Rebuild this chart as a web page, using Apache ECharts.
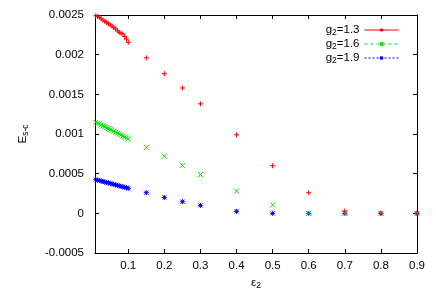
<!DOCTYPE html>
<html><head><meta charset="utf-8">
<script src="https://cdn.jsdelivr.net/npm/echarts@6/dist/echarts.min.js"></script>
<style>html,body{margin:0;padding:0;background:#fff}#c{width:436px;height:305px}</style>
</head><body><div id="c"></div>
<script>
const xVals = [0.01,0.015,0.02,0.025,0.03,0.035,0.04,0.045,0.05,0.055,0.06,0.065,0.07,0.075,0.08,0.085,0.09,0.095,0.1,
  0.15,0.2,0.25,0.3,0.4,0.5,0.6,0.7,0.8,0.9];
const seriesNames = ['g2=1.3','g2=1.6','g2=1.9'];
const g13 = [0.002490,0.002482,0.002470,0.002452,0.002436,0.002420,0.002404,0.002390,0.002374,0.002360,0.002342,0.002325,0.002300,0.002282,0.002270,0.002262,0.002228,0.002196,0.002155,
  0.00196,0.00176,0.00158,0.00138,0.00099,0.00060,0.00026,0.00003,0.0,0.0];
const g16 = [0.001146,0.001137,0.001126,0.001114,0.001103,0.001092,0.001080,0.001068,0.001057,0.001046,0.001034,0.001022,0.001010,0.000998,0.000986,0.000974,0.000962,0.000950,0.000937,
  0.00083,0.00072,0.000605,0.00049,0.00028,0.000105,0.0,0.0,0.0,0.0];
const g19 = [0.000424,0.000419,0.000413,0.000407,0.000401,0.000395,0.000389,0.000383,0.000377,0.000371,0.000365,0.000359,0.000352,0.000346,0.000340,0.000334,0.000328,0.000322,0.000315,
  0.00026,0.00020,0.000147,0.00010,0.000025,0.0,0.0,0.0,0.0,0.0];
const xTicks = [0.1,0.2,0.3,0.4,0.5,0.6,0.7,0.8,0.9];
const yTicks = [-0.0005,0,0.0005,0.001,0.0015,0.002,0.0025];

const FONT = 'Liberation Sans';
const FS = 11.5;
const colors = ['#ff0000','#00e000','#0000ff'];
const symbols = [
  'path://M0,5L10,5M5,0L5,10',
  'path://M0,0L10,10M0,10L10,0',
  'path://M0,5L10,5M5,0L5,10M1,1L9,9M1,9L9,1'
];
const lineTypes = ['solid',[3,3],[2,2]];
const allData = [g13,g16,g19];

const fmtY = v => String(+v.toFixed(6));
const fmtX = v => String(+v.toFixed(3));
const rich = {
  a:{fontFamily:FONT,fontSize:FS,color:'#000',lineHeight:14},
  s:{fontFamily:FONT,fontSize:8.5,color:'#000',lineHeight:5,verticalAlign:'bottom'}
};

const series = seriesNames.map((n,i)=>({
  name:n, type:'line', xAxisIndex:0, yAxisIndex:0,
  data: xVals.map((x,j)=>[x, allData[i][j]]),
  showSymbol:true, showAllSymbol:true, symbol:symbols[i], symbolSize:5,
  lineStyle:{opacity:0},
  itemStyle:{color:colors[i], borderColor:colors[i], borderWidth:1},
  emphasis:{disabled:true}, animation:false, z: 10-i
}));

const tickStyle = {show:true, inside:true, length:4, lineStyle:{color:'#000',width:1}};
const chart = echarts.init(document.getElementById('c'), null, {renderer:'canvas'});
chart.setOption({
  animation:false,
  backgroundColor:'#fff',
  grid:{left:95,right:19,top:15,bottom:52,containLabel:false},
  legend:{
    orient:'vertical', right:32, top:18, align:'right',
    itemWidth:34, itemHeight:4, itemGap:0,
    data: seriesNames.map((n,i)=>({name:n, lineStyle:{opacity:1,width:1,type:lineTypes[i],color:colors[i]}})),
    formatter: n => '{a|g}{s|2}{a|=' + n.slice(3) + '}',
    textStyle:{rich:rich, fontFamily:FONT, fontSize:FS, lineHeight:12},
    selectedMode:false
  },
  xAxis:[{
    type:'value', min:0.0078, max:0.9, position:'bottom',
    splitLine:{show:false},
    axisLine:{show:true,onZero:false,lineStyle:{color:'#000',width:1}},
    axisTick:Object.assign({customValues:xTicks},tickStyle),
    axisLabel:{customValues:xTicks, formatter:fmtX, fontFamily:FONT, fontSize:FS, color:'#000', margin:7},
    name:'{a|ε}{s|2}', nameLocation:'middle', nameGap:20,
    nameTextStyle:{rich:rich}
  },{
    type:'value', min:0.0078, max:0.9, position:'top',
    splitLine:{show:false},
    axisLine:{show:true,onZero:false,lineStyle:{color:'#000',width:1}},
    axisTick:Object.assign({customValues:xTicks},tickStyle),
    axisLabel:{show:false}
  }],
  yAxis:[{
    type:'value', min:-0.0005, max:0.0025, interval:0.0005, position:'left',
    splitLine:{show:false},
    axisLine:{show:true,onZero:false,lineStyle:{color:'#000',width:1}},
    axisTick:tickStyle,
    axisLabel:{formatter:fmtY, fontFamily:FONT, fontSize:FS, color:'#000', margin:11},
    name:'{a|E}{s|s-c}', nameLocation:'middle', nameGap:65, nameRotate:90,
    nameTextStyle:{rich:rich}
  },{
    type:'value', min:-0.0005, max:0.0025, interval:0.0005, position:'right',
    splitLine:{show:false},
    axisLine:{show:true,onZero:false,lineStyle:{color:'#000',width:1}},
    axisTick:tickStyle,
    axisLabel:{show:false}
  }],
  series:series
});
</script></body></html>
